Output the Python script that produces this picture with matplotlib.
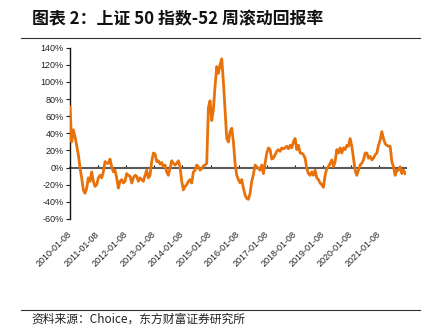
import matplotlib
matplotlib.use('Agg')
import matplotlib.pyplot as plt
from matplotlib.lines import Line2D
import pandas as pd

# ---------------- data ----------------
start_date = '2010-01-08'
end_date = '2021-12-10'

# 52-week rolling return (%), sampled roughly every 3 weeks
returns_pct = [
    71, 30, 44, 36, 26, 15, 0, -12, -26, -30,
    -24, -12, -16, -5, -16, -22, -20, -12, -9, -12,
    -5, 7, 5, 5, 10, 1, -5, -3, -12, -24,
    -16, -14, -18, -16, -7, -9, -10, -18, -12, -9,
    -10, -16, -12, -14, -16, -9, -3, -12, -9, 7,
    17, 16, 7, 8, 4, 6, 1, 3, -5, -9,
    -1, 8, 5, 3, 5, 8, 1, -16, -26, -22,
    -20, -16, -14, -18, -5, -3, 3, 1, -3, -1,
    2, 3,
    5, 70, 78, 55, 68, 95, 118, 110, 120, 127,
    100, 67, 34, 30, 42, 46, 30, 5, -9, -14,
    -18, -14, -24, -32, -36, -37, -30, -16, -8, 3,
    1, -1, -3, 3, -7, 5, 17, 23, 21, 10,
    11, 15, 19, 21, 19, 23, 22, 23, 25, 22,
    26, 23, 30, 34, 21, 26, 17, 17, 15, 11,
    -1, -7, -9, -5, -9, -3, -12, -14, -18, -20,
    -23, -9, -1, 1, 5, 9, 1, 7, 21, 17,
    23, 17, 23, 21, 26, 25, 34, 25, 11, -3,
    -9, -3, 3, 5, 9, 17, 17, 11, 13, 9,
    11, 15, 17, 26, 32, 42, 34, 28, 26, 25,
    25, 7, 1, -9, -3, -3, 1, -7, -3, -7,
]

tick_labels = ['2010-01-08', '2011-01-08', '2012-01-08', '2013-01-08',
               '2014-01-08', '2015-01-08', '2016-01-08', '2017-01-08',
               '2018-01-08', '2019-01-08', '2020-01-08', '2021-01-08']
y_ticks = [-60, -40, -20, 0, 20, 40, 60, 80, 100, 120, 140]

title = '图表 2：上证 50 指数-52 周滚动回报率'
source = '资料来源：Choice，东方财富证券研究所'

# ---------------- plot ----------------
plt.rcParams['font.family'] = ['Liberation Sans', 'DejaVu Sans']

W, H = 431, 328
fig = plt.figure(figsize=(W / 100, H / 100), dpi=100)
fig.patch.set_facecolor('white')

ax = fig.add_axes([70 / W, 1 - 219 / H, (405.7 - 70) / W, (219 - 47.7) / H])

dates = pd.date_range(start_date, end_date, periods=len(returns_pct))
ax.plot(dates, returns_pct, color='#E8710A', lw=2.0, solid_joinstyle='round', zorder=3)

ax.set_ylim(-60, 140)
ax.set_xlim(pd.Timestamp(start_date), pd.Timestamp('2021-12-17'))
ax.set_yticks(y_ticks)
ax.set_yticklabels([f'{v}%' for v in y_ticks])

tick_dates = pd.to_datetime(tick_labels)
ax.set_xticks(tick_dates)
ax.set_xticklabels(tick_labels, rotation=45, ha='right', va='center',
                   rotation_mode='anchor')
ax.tick_params(axis='x', length=0, labelsize=6.5, pad=10, colors='#222222')
ax.tick_params(axis='y', direction='out', length=3, width=0.8,
               labelsize=6.5, pad=1.5, colors='#222222')

for s in ['top', 'right', 'bottom']:
    ax.spines[s].set_visible(False)
ax.spines['left'].set_linewidth(1.0)
ax.spines['left'].set_color('#111111')

# zero axis line with small ticks (Excel style, labels low)
zero_frac = (0 - (-60)) / (140 - (-60))
sec = ax.secondary_xaxis(zero_frac)
sec.set_xticks(tick_dates)
sec.set_xticklabels([])
sec.tick_params(axis='x', direction='in', length=2.5, width=0.8, colors='#111111')
sec.spines['bottom'].set_color('#5a5a5a')
sec.spines['bottom'].set_linewidth(1.5)
for s in ['top', 'left', 'right']:
    if s in sec.spines:
        sec.spines[s].set_visible(False)

# title and source
fig.text(32 / W, 1 - 19 / H, title, fontsize=12.2, fontweight='bold',
         family=['Noto Sans CJK SC', 'DejaVu Sans'], va='center', ha='left',
         color='#111111')
fig.add_artist(Line2D([21 / W, 420 / W], [1 - 38.3 / H] * 2,
                      color='#333333', lw=0.8))
fig.add_artist(Line2D([21 / W, 420 / W], [1 - 310 / H] * 2,
                      color='#333333', lw=0.8))
fig.text(31 / W, 1 - 319 / H, source, fontsize=8.5,
         family=['Noto Sans CJK SC', 'DejaVu Sans'], va='center', ha='left',
         color='#222222')

fig.savefig('out.png', dpi=100, facecolor='white')
